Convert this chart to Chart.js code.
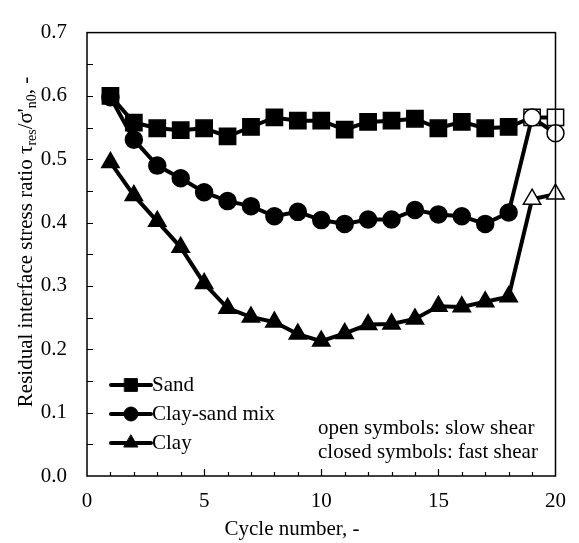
<!DOCTYPE html>
<html>
<head>
<meta charset="utf-8">
<script src="https://cdn.jsdelivr.net/npm/chart.js@4.4.1/dist/chart.umd.min.js"></script>
<style>
  html, body { margin: 0; padding: 0; background: #fff; }
  #wrap { width: 579px; height: 543px; }
</style>
</head>
<body>
<div id="wrap"><canvas id="chart" width="579" height="543"></canvas></div>
<script>
// ---- data ----------------------------------------------------------
const cycles = [1, 2, 3, 4, 5, 6, 7, 8, 9, 10, 11, 12, 13, 14, 15, 16, 17, 18, 19, 20];
const sand = [0.600, 0.558, 0.549, 0.546, 0.549, 0.536, 0.551, 0.566, 0.561, 0.561,
              0.547, 0.559, 0.561, 0.564, 0.549, 0.559, 0.549, 0.551, 0.566, 0.566];
const claySandMix = [0.598, 0.531, 0.490, 0.470, 0.448, 0.434, 0.426, 0.410, 0.417, 0.404,
                     0.398, 0.405, 0.405, 0.420, 0.413, 0.410, 0.398, 0.416, 0.566, 0.541];
const clay = [0.495, 0.443, 0.402, 0.361, 0.304, 0.265, 0.251, 0.243, 0.224, 0.213,
              0.225, 0.239, 0.240, 0.248, 0.268, 0.267, 0.275, 0.283, 0.437, 0.445];
// cycles at/after this one were sheared slowly (open symbols)
const firstSlowCycle = 19;
const yTicks = [0, 0.1, 0.2, 0.3, 0.4, 0.5, 0.6, 0.7];
const xTicks = [0, 5, 10, 15, 20];

const FONT = "'Liberation Serif', 'Times New Roman', serif";

const fills = cycles.map((c) => (c >= firstSlowCycle ? "#fff" : "#000"));
const toXY = (arr) => arr.map((v, i) => ({ x: cycles[i], y: v }));

function series(label, values, style, radius, order) {
  return {
    label,
    order,
    data: toXY(values),
    borderColor: "#000",
    borderWidth: 4,
    pointStyle: style,
    pointRadius: radius,
    pointBackgroundColor: fills,
    pointBorderColor: "#000",
    pointBorderWidth: 1.5,
    tension: 0,
    clip: false,
  };
}

// ---- frame, inward ticks, titles, legend, note ------------------------
const decor = {
  id: "decor",
  afterDraw(chart) {
    const { ctx, chartArea: a, scales } = chart;
    const x = scales.x, y = scales.y;
    ctx.save();
    ctx.strokeStyle = "#000";
    ctx.lineWidth = 1.5;
    ctx.strokeRect(a.left, a.top, a.right - a.left, a.bottom - a.top);

    ctx.lineWidth = 1.2;
    ctx.beginPath();
    for (let i = 1; i < 14; i++) {
      const py = Math.round(y.getPixelForValue(i * 0.05)) + 0.5;
      ctx.moveTo(a.left, py);
      ctx.lineTo(a.left + 6, py);
    }
    for (let c = 1; c < 20; c++) {
      const px = Math.round(x.getPixelForValue(c)) + 0.5;
      ctx.moveTo(px, a.bottom);
      ctx.lineTo(px, a.bottom - (c % 5 === 0 ? 7 : 4));
    }
    ctx.stroke();

    ctx.fillStyle = "#000";
    ctx.font = "21px " + FONT;
    ctx.textBaseline = "middle";

    // x title
    ctx.textAlign = "center";
    ctx.fillText("Cycle number, -", 292, 529);

    // y title with subscripts
    const parts = [
      ["Residual interface stress ratio \u03C4", 0],
      ["res", 1],
      ["/\u03C3'", 0],
      ["n0", 1],
      [", -", 0],
    ];
    const fontFor = (sub) => (sub ? "14px " : "21px ") + FONT;
    let total = 0;
    parts.forEach(([t, sub]) => { ctx.font = fontFor(sub); total += ctx.measureText(t).width; });
    ctx.translate(26, 242);
    ctx.rotate(-Math.PI / 2);
    ctx.textAlign = "left";
    let cx = -total / 2;
    parts.forEach(([t, sub]) => {
      ctx.font = fontFor(sub);
      ctx.fillText(t, cx, sub ? 6 : 0);
      cx += ctx.measureText(t).width;
    });
    ctx.setTransform(1, 0, 0, 1, 0, 0);

    // legend
    const legendY = [385, 414, 443];
    const legendR = [9, 7, 8];
    chart.data.datasets.forEach((ds, i) => {
      const ly = legendY[i];
      ctx.strokeStyle = "#000";
      ctx.lineWidth = 4;
      ctx.lineCap = "round";
      ctx.beginPath();
      ctx.moveTo(111, ly);
      ctx.lineTo(151, ly);
      ctx.stroke();
      ctx.fillStyle = "#000";
      ctx.lineWidth = 1;
      Chart.helpers.drawPoint(ctx, { pointStyle: ds.pointStyle, radius: legendR[i], rotation: 0, borderWidth: 1 }, 131, ly);
      ctx.font = "21px " + FONT;
      ctx.textAlign = "left";
      ctx.fillText(ds.label, 152, ly);
    });

    // note
    ctx.fillText("open symbols: slow shear", 318, 428);
    ctx.fillText("closed symbols: fast shear", 318, 452);
    ctx.restore();
  },
};

new Chart(document.getElementById("chart"), {
  type: "line",
  data: {
    datasets: [
      series("Sand", sand, "rect", 11.5, 2),
      series("Clay-sand mix", claySandMix, "circle", 8.5, 1),
      series("Clay", clay, "triangle", 10, 0),
    ],
  },
  options: {
    responsive: false,
    animation: false,
    layout: { padding: { left: 0, top: 13, right: 16, bottom: 0 } },
    plugins: { legend: { display: false }, tooltip: { enabled: false } },
    scales: {
      x: {
        type: "linear",
        min: 0,
        max: 20,
        afterFit: (s) => { s.height = 67; },
        afterBuildTicks: (s) => { s.ticks = xTicks.map((v) => ({ value: v })); },
        grid: { display: false, drawTicks: false },
        border: { display: false },
        ticks: { color: "#000", padding: 13, font: { family: FONT, size: 21 } },
      },
      y: {
        type: "linear",
        min: 0,
        max: 0.7,
        afterFit: (s) => { s.width = 87; },
        afterBuildTicks: (s) => { s.ticks = yTicks.map((v) => ({ value: v })); },
        grid: { display: false, drawTicks: false },
        border: { display: false },
        ticks: {
          color: "#000",
          padding: 20,
          font: { family: FONT, size: 21 },
          callback: (v) => Number(v).toFixed(1),
        },
      },
    },
  },
  plugins: [decor],
});
</script>
</body>
</html>
